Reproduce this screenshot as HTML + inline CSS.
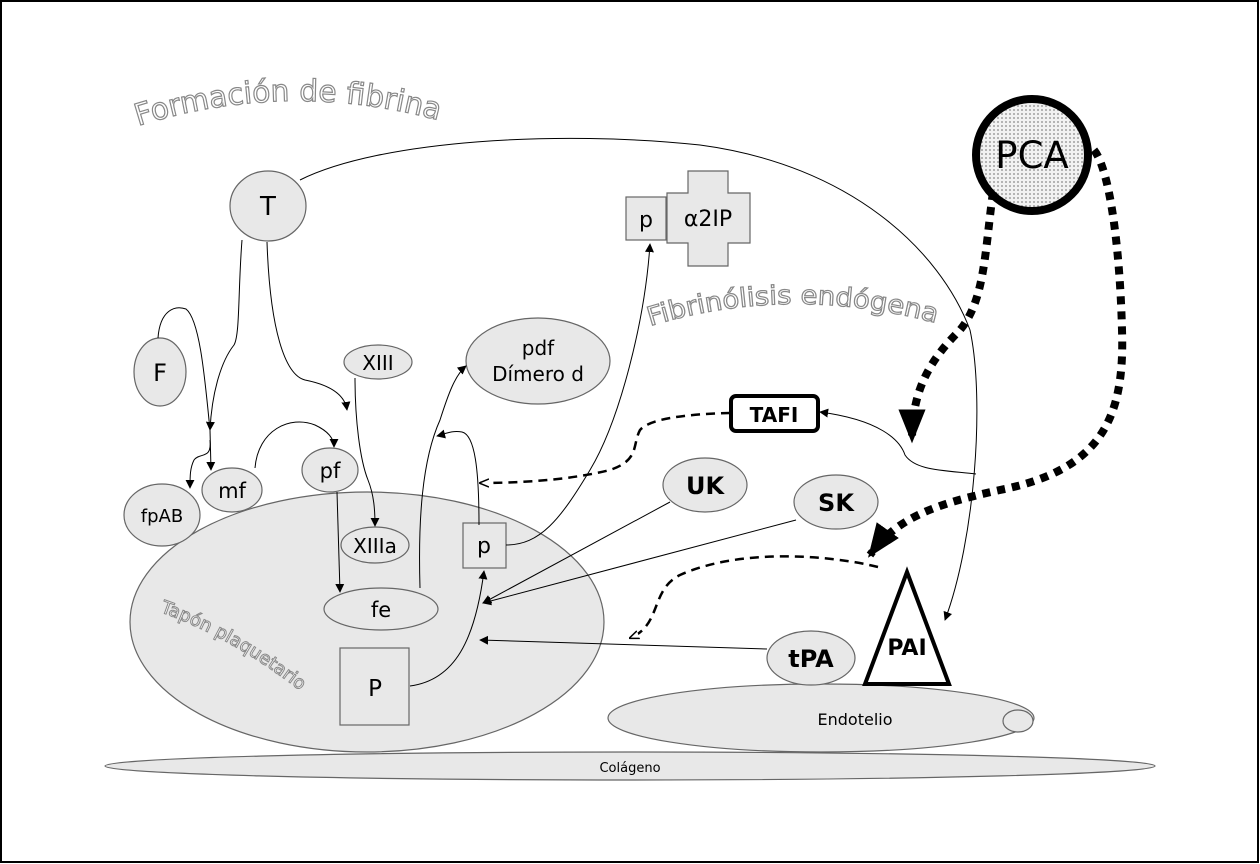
<!DOCTYPE html>
<html><head><meta charset="utf-8"><style>html,body{margin:0;padding:0;background:#fff}svg{display:block}</style></head>
<body>
<svg width="1260" height="864" viewBox="0 0 1260 864" xmlns="http://www.w3.org/2000/svg" font-family="'DejaVu Sans','Liberation Sans',sans-serif">
<defs>
<pattern id="dots" width="4" height="4" patternUnits="userSpaceOnUse"><rect width="4" height="4" fill="#f2f2f2"/><circle cx="2" cy="2" r="0.9" fill="#888"/></pattern>
<marker id="a" viewBox="0 0 10 10" refX="9" refY="5" markerWidth="9" markerHeight="9" orient="auto" markerUnits="userSpaceOnUse"><path d="M0,0L10,5L0,10z" fill="#000"/></marker>
<marker id="o" viewBox="0 0 10 10" refX="9" refY="5" markerWidth="10" markerHeight="10" orient="auto" markerUnits="userSpaceOnUse"><path d="M0,1L10,5L0,9" fill="#fff" stroke="#000" stroke-width="1.5"/></marker>
<marker id="big" viewBox="0 0 10 10" refX="9" refY="5" markerWidth="34" markerHeight="34" orient="auto" markerUnits="userSpaceOnUse"><path d="M0,1L10,5L0,9z" fill="#000"/></marker>
<path id="t1" d="M138,126 Q290,78 445,122"/>
<path id="t2" d="M650,326 Q790,283 940,324"/>
<path id="t3" d="M160,612 Q240,640 318,705"/>
</defs>
<rect x="1" y="1" width="1257" height="861" fill="#fff" stroke="#000" stroke-width="2"/>
<g fill="#e8e8e8" stroke="#666" stroke-width="1.2">
<ellipse cx="630" cy="766" rx="525" ry="14"/>
<ellipse cx="821" cy="718" rx="213" ry="34"/>
<ellipse cx="1018" cy="721" rx="15" ry="11"/>
<ellipse cx="367" cy="622" rx="237" ry="130"/>
<ellipse cx="268" cy="206" rx="38" ry="35"/>
<ellipse cx="160" cy="372" rx="26" ry="34"/>
<ellipse cx="378" cy="362" rx="34" ry="17"/>
<ellipse cx="538" cy="361" rx="72" ry="43"/>
<ellipse cx="162" cy="515" rx="38" ry="31"/>
<ellipse cx="232" cy="490" rx="30" ry="22"/>
<ellipse cx="330" cy="470" rx="28" ry="22"/>
<ellipse cx="375" cy="545" rx="34" ry="18"/>
<ellipse cx="381" cy="609" rx="57" ry="21"/>
<rect x="463" y="523" width="43" height="45"/>
<rect x="340" y="648" width="69" height="77"/>
<ellipse cx="705" cy="485" rx="42" ry="27"/>
<ellipse cx="836" cy="502" rx="42" ry="27"/>
<ellipse cx="811" cy="658" rx="44" ry="27"/>
<rect x="626" y="197" width="40" height="43"/>
<path d="M688,171H728V193H750V243H728V266H688V243H667V193H688Z"/>
</g>
<circle cx="1032" cy="155" r="56" fill="url(#dots)" stroke="#000" stroke-width="8"/>
<rect x="731" y="396" width="87" height="35" rx="5" fill="#fff" stroke="#000" stroke-width="4"/>
<path d="M907,572L865,684L949,684Z" fill="#fff" stroke="#000" stroke-width="4"/>
<g fill="none" stroke="#000" stroke-width="1">
<path d="M300,180 C380,140 560,130 700,145 C850,165 940,250 970,330 C985,400 975,540 945,620" marker-end="url(#a)"/>
<path d="M242,240 C238,290 240,335 234,345 C222,360 212,390 210,430" marker-end="url(#a)"/>
<path d="M158,338 C160,310 175,305 186,309 C200,320 205,380 210,430"/>
<path d="M210,430 L211,470" marker-end="url(#a)"/>
<path d="M210,440 C212,460 200,452 194,460 C190,468 190,476 190,488" marker-end="url(#a)"/>
<path d="M267,242 C270,330 285,375 305,380 C330,385 345,395 347,410" marker-end="url(#a)"/>
<path d="M355,378 C355,420 360,460 368,480 C374,495 375,510 375,526" marker-end="url(#a)"/>
<path d="M255,468 C258,430 290,415 315,425 C330,432 334,440 334,447" marker-end="url(#a)"/>
<path d="M337,492 L340,592" marker-end="url(#a)"/>
<path d="M420,588 C418,520 422,460 440,420 C448,395 455,375 466,366" marker-end="url(#a)"/>
<path d="M479,525 C479,470 475,435 462,432 C452,430 445,434 437,436" marker-end="url(#a)"/>
<path d="M506,545 C540,545 560,520 590,470 C620,420 645,320 650,244" marker-end="url(#a)"/>
<path d="M410,686 C455,680 475,640 484,571" marker-end="url(#a)"/>
<path d="M670,502 L483,603" marker-end="url(#a)"/>
<path d="M796,520 L483,603" marker-end="url(#a)"/>
<path d="M767,649 L480,640" marker-end="url(#a)"/>
<path d="M976,474 C940,470 915,470 905,455 C900,440 880,420 820,412" marker-end="url(#a)"/>
</g>
<g fill="none" stroke="#000" stroke-width="2.5" stroke-dasharray="9,6">
<path d="M730,413 C690,414 650,418 640,430 C632,445 640,460 610,470 C570,480 520,483 480,483" marker-end="url(#o)"/>
<path d="M878,567 C830,555 740,548 680,575 C650,590 662,625 630,638" marker-end="url(#o)"/>
</g>
<g fill="none" stroke="#000" stroke-width="8" stroke-dasharray="8,7">
<path d="M993,192 C985,250 985,300 960,330 C930,360 912,390 912,440" marker-end="url(#big)"/>
<path d="M1094,150 C1110,170 1120,250 1122,330 C1125,420 1100,470 1000,490 C930,505 895,520 870,555" marker-end="url(#big)"/>
</g>
<g fill="#fff" stroke="#888" stroke-width="1.2">
<text font-size="30"><textPath href="#t1" textLength="305" lengthAdjust="spacingAndGlyphs">Formación de fibrina</textPath></text>
<text font-size="26"><textPath href="#t2" textLength="290" lengthAdjust="spacingAndGlyphs">Fibrinólisis endógena</textPath></text>
</g>
<text font-size="18" fill="#fff" stroke="#888" stroke-width="1"><textPath href="#t3">Tapón plaquetario</textPath></text>
<g text-anchor="middle" fill="#000">
<text x="268" y="215" font-size="26">T</text>
<text x="160" y="381" font-size="24">F</text>
<text x="378" y="370" font-size="20">XIII</text>
<text x="538" y="355" font-size="20">pdf</text>
<text x="538" y="381" font-size="20">Dímero d</text>
<text x="162" y="522" font-size="18">fpAB</text>
<text x="232" y="498" font-size="21">mf</text>
<text x="330" y="478" font-size="21">pf</text>
<text x="375" y="553" font-size="20">XIIIa</text>
<text x="381" y="617" font-size="21">fe</text>
<text x="484" y="553" font-size="22">p</text>
<text x="375" y="696" font-size="23">P</text>
<text x="646" y="227" font-size="22">p</text>
<text x="708" y="226" font-size="22">α2IP</text>
<text x="1032" y="168" font-size="37">PCA</text>
<text x="774" y="422" font-size="20" font-weight="bold">TAFI</text>
<text x="705" y="494" font-size="24" font-weight="bold">UK</text>
<text x="836" y="511" font-size="24" font-weight="bold">SK</text>
<text x="811" y="667" font-size="24" font-weight="bold">tPA</text>
<text x="907" y="655" font-size="22" font-weight="bold">PAI</text>
<text x="855" y="725" font-size="16">Endotelio</text>
<text x="630" y="772" font-size="13">Colágeno</text>
</g>
</svg>
</body></html>
